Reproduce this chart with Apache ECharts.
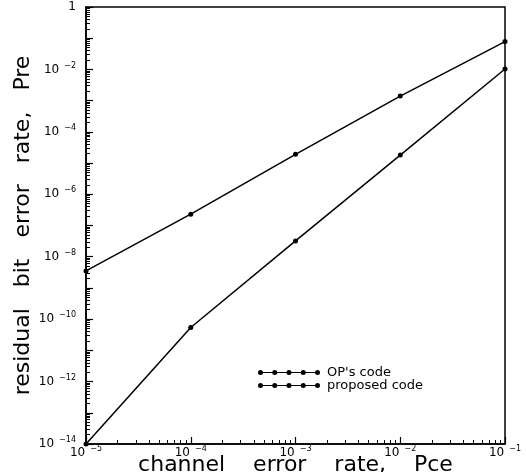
<!DOCTYPE html>
<html>
<head>
<meta charset="utf-8">
<script src="https://cdn.jsdelivr.net/npm/echarts@6.0.0/dist/echarts.min.js"></script>
<style>
html,body{margin:0;padding:0;background:#fff;}
#chart{width:526px;height:472px;}
</style>
</head>
<body>
<div id="chart"></div>
<script>
// channel error rate (x) values
const channelErrorRate = [1e-5, 1e-4, 1e-3, 1e-2, 1e-1];
// residual bit error rate
const opsCode = [3.5e-9, 2.3e-7, 1.9e-5, 1.4e-3, 0.078];
const proposedCode = [1e-14, 5.4e-11, 3.2e-8, 1.8e-5, 0.0103];
const seriesNames = ["OP's code", "proposed code"];
// tick labels (decade exponents)
const xLabelExps = [-5, -4, -3, -2, -1];
const yLabelExps = [0, -2, -4, -6, -8, -10, -12, -14];
const yDecadeExps = [0,-1,-2,-3,-4,-5,-6,-7,-8,-9,-10,-11,-12,-13,-14];
const minorMultipliers = [2,3,4,5,6,7,8,9];

const pow10 = e => Number('1e' + e);
const xLabelVals = xLabelExps.map(pow10);
const yLabelVals = yLabelExps.map(pow10);
const yMajorVals = yDecadeExps.map(pow10);
function minorTicks(lo, hi) {
  const out = [];
  for (let e = lo; e < hi; e++) minorMultipliers.forEach(m => out.push(m * pow10(e)));
  return out;
}
const xMinorVals = minorTicks(-5, -1);
const yMinorVals = minorTicks(-14, 0);

const FONT = 'DejaVu Sans';
function fmt(v) {
  const e = Math.round(Math.log10(v));
  if (e === 0) return '{n|1}';
  return '{b|10}{s|−' + (-e) + '}';
}
const rich = {
  n: {fontSize: 12, fontFamily: FONT, color: '#000'},
  b: {fontSize: 12, fontFamily: FONT, color: '#000'},
  s: {fontSize: 8, fontFamily: FONT, color: '#000', padding: [0, 0, 8, 5]}
};
const axisLine = {show: true, lineStyle: {color: '#000', width: 1.5}};
const dot = (x) => 'M' + x + ',3a2.5,2.5 0 1,1 5,0a2.5,2.5 0 1,1 -5,0Z';
const legendIcon = 'path://M0,2.4H62V3.6H0Z ' + [0, 14.25, 28.5, 42.75, 57].map(dot).join(' ');

const chart = echarts.init(document.getElementById('chart'), null, {renderer: 'canvas'});
chart.setOption({
  animation: false,
  backgroundColor: '#fff',
  grid: {left: 86, right: 21, top: 7, bottom: 28, outerBoundsMode: 'none', containLabel: false,
         show: true, borderColor: '#000', borderWidth: 1.5, backgroundColor: 'transparent'},
  legend: {
    orient: 'vertical', left: 253, top: 361, itemGap: 0,
    itemWidth: 62, itemHeight: 6,
    icon: legendIcon,
    itemStyle: {color: '#000', borderWidth: 0},
    textStyle: {fontFamily: FONT, fontSize: 13, lineHeight: 13, color: '#000', padding: [0, 0, 0, 2]},
    data: seriesNames
  },
  xAxis: [{
    type: 'log', logBase: 10, min: 1e-5, max: 1e-1, position: 'bottom',
    name: 'channel    error    rate,    Pce', nameLocation: 'middle', nameGap: 10, nameMoveOverlap: false,
    nameTextStyle: {fontFamily: FONT, fontSize: 22, color: '#000', verticalAlign: 'top'},
    axisLine: axisLine,
    axisTick: {show: true, inside: true, length: 7, lineStyle: {color: '#000', width: 1.2}, customValues: xLabelVals},
    axisLabel: {show: true, margin: 1, customValues: xLabelVals, formatter: fmt, rich: rich},
    splitLine: {show: false}, minorTick: {show: false}
  }, {
    type: 'log', logBase: 10, min: 1e-5, max: 1e-1, position: 'bottom', gridIndex: 0,
    axisLine: {show: false},
    axisTick: {show: true, inside: true, length: 4, lineStyle: {color: '#000', width: 1}, customValues: xMinorVals},
    axisLabel: {show: false}, splitLine: {show: false}
  }],
  yAxis: [{
    type: 'log', logBase: 10, min: 1e-14, max: 1, position: 'left',
    name: 'residual   bit   error   rate,   Pre', nameLocation: 'middle', nameGap: 52, nameRotate: 90, nameMoveOverlap: false,
    nameTextStyle: {fontFamily: FONT, fontSize: 22, color: '#000'},
    axisLine: axisLine,
    axisTick: {show: true, inside: true, length: 7, lineStyle: {color: '#000', width: 1.2}, customValues: yMajorVals},
    axisLabel: {show: true, margin: 10, customValues: yLabelVals, formatter: fmt, rich: rich},
    splitLine: {show: false}
  }, {
    type: 'log', logBase: 10, min: 1e-14, max: 1, position: 'left', gridIndex: 0,
    axisLine: {show: false},
    axisTick: {show: true, inside: true, length: 4, lineStyle: {color: '#000', width: 1}, customValues: yMinorVals},
    axisLabel: {show: false}, splitLine: {show: false}
  }],
  series: [{
    name: seriesNames[0], type: 'line', xAxisIndex: 0, yAxisIndex: 0,
    data: channelErrorRate.map((x, i) => [x, opsCode[i]]),
    symbol: 'circle', symbolSize: 5, showSymbol: true,
    itemStyle: {color: '#000'}, lineStyle: {color: '#000', width: 1.5}
  }, {
    name: seriesNames[1], type: 'line', xAxisIndex: 0, yAxisIndex: 0,
    data: channelErrorRate.map((x, i) => [x, proposedCode[i]]),
    symbol: 'circle', symbolSize: 5, showSymbol: true,
    itemStyle: {color: '#000'}, lineStyle: {color: '#000', width: 1.5}
  }]
});
</script>
</body>
</html>
